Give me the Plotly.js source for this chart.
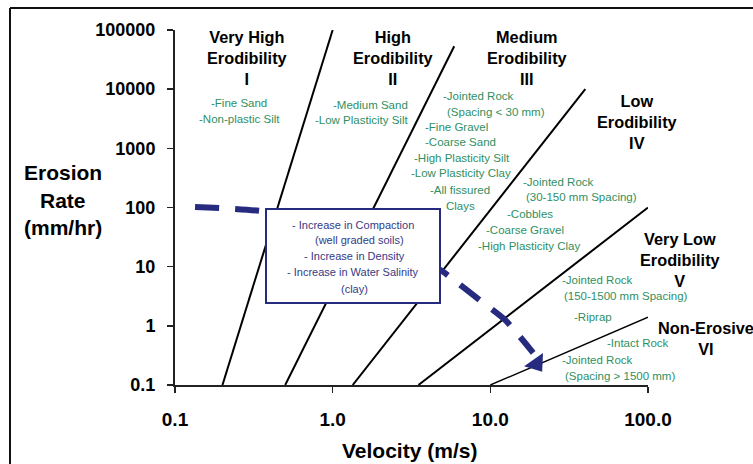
<!DOCTYPE html>
<html><head><meta charset="utf-8">
<script src="https://cdn.plot.ly/plotly-3.0.1.min.js"></script>
<style>body{margin:0;background:#fff}#c{width:753px;height:464px}</style>
</head><body><div id="c"></div>
<script>
// ---- data ----
const xTickVals = [0.1, 1, 10, 100];
const xTickText = ['0.1', '1.0', '10.0', '100.0'];
const yTickVals = [0.1, 1, 10, 100, 1000, 10000, 100000];
const yTickText = ['0.1', '1', '10', '100', '1000', '10000', '100000'];

// boundary lines between erodibility categories (velocity m/s, erosion rate mm/hr)
const boundaryVelStart = [0.2, 0.5, 1.34, 3.5, 10];
const boundaryVelEnd = [1.0, 5.9, 40, 100, 100];
const boundaryRateStart = [0.1, 0.1, 0.1, 0.1, 0.1];
const boundaryRateEnd = [100000, 53000, 10000, 100, 1.4];
const boundaryWidth = [2, 2, 2, 2, 1.4];

// trend arrow (dashed)
const trendVel = [0.134, 0.383, 1.11, 4.8, 5.55, 8.6, 12.4, 18.7, 19.6];
const trendRate = [102, 84, 34, 8.8, 6.7, 2.7, 1.26, 0.35, 0.23];

const categoryLabels = ['Very High<br>Erodibility<br>I', 'High<br>Erodibility<br>II',
  'Medium<br>Erodibility<br>III', 'Low<br>Erodibility<br>IV',
  'Very Low<br>Erodibility<br>V', 'Non-Erosive<br>VI'];
const materialsI = ['-Fine Sand', '-Non-plastic Silt'];
const materialsII = ['-Medium Sand', '-Low Plasticity Silt'];
const materialsIII = ['-Jointed Rock', '(Spacing < 30 mm)', '-Fine Gravel', '-Coarse Sand',
  '-High Plasticity Silt', '-Low Plasticity Clay', '-All fissured', 'Clays'];
const materialsIV = ['-Jointed Rock', '(30-150 mm Spacing)', '-Cobbles', '-Coarse Gravel', '-High Plasticity Clay'];
const materialsV = ['-Jointed Rock', '(150-1500 mm Spacing)', '-Riprap'];
const materialsVI = ['-Intact Rock', '-Jointed Rock', '(Spacing > 1500 mm)'];
const boxLines = ['- Increase in Compaction', '(well graded soils)', '- Increase in Density',
  '- Increase in Water Salinity', '(clay)'];

// ---- layout helpers (pixel -> paper) ----
const L = 175, R = 648, T = 30, B = 385;
const px = v => (v - L) / (R - L);
const py = v => (B - v) / (B - T);
const FONT = 'Liberation Sans, Arial, sans-serif';
const GREEN = '#2f8f5f', NAVY = '#272b80', BOXTXT = '#353a86';

const traces = [];
for (let i = 0; i < boundaryVelStart.length; i++) {
  traces.push({x: [boundaryVelStart[i], boundaryVelEnd[i]], y: [boundaryRateStart[i], boundaryRateEnd[i]],
    mode: 'lines', line: {color: '#000', width: boundaryWidth[i]}, hoverinfo: 'skip', showlegend: false});
}
traces.push({x: trendVel.slice(0, -1), y: trendRate.slice(0, -1), mode: 'lines',
  line: {color: NAVY, width: 6, dash: '24px,16px', shape: 'spline', smoothing: 0.6}, showlegend: false});
traces.push({x: trendVel.slice(-1), y: trendRate.slice(-1), mode: 'markers',
  marker: {symbol: 'triangle-down', size: 20, angle: -35, color: NAVY}, showlegend: false});

const ann = [];
function add(text, cx, cy, size, color, bold) {
  ann.push({xref: 'paper', yref: 'paper', x: px(cx), y: py(cy), xanchor: 'center', yanchor: 'middle',
    showarrow: false, text: text, font: {family: FONT, size: size, color: color, weight: bold ? 'bold' : 'normal'}});
}
const catPos = [[247, 57.5], [393, 58], [527, 57.5], [637, 121.5], [680, 260], [706, 338]];
categoryLabels.forEach((t, i) => add(t, catPos[i][0], catPos[i][1], 16.3, '#000', true));

const posI = [[239, 103], [239, 119]];
const posII = [[370, 105], [361, 120]];
const posIII = [[478, 96], [496, 112], [456, 127], [460, 142], [462, 158], [461, 173], [460, 190], [460, 206]];
const posIV = [[558, 182], [581, 197], [530, 214], [525, 230], [529, 246]];
const posV = [[597, 280], [626, 296], [593, 317]];
const posVI = [[638, 343], [597, 360], [620, 376]];
[[materialsI, posI], [materialsII, posII], [materialsIII, posIII], [materialsIV, posIV], [materialsV, posV], [materialsVI, posVI]]
  .forEach(([arr, pos]) => arr.forEach((t, i) => add(t, pos[i][0], pos[i][1], 11.5, GREEN, false)));

const boxY = [225, 240, 256, 272, 289];
const boxX = [353, 359, 354, 353, 354];
boxLines.forEach((t, i) => add(t, boxX[i], boxY[i], 11, BOXTXT, false));

add('Erosion', 63, 172, 21, '#000', true);
add('Rate', 63, 200, 21, '#000', true);
add('(mm/hr)', 63, 228, 21, '#000', true);
add('Velocity (m/s)', 409, 450, 21, '#000', true);

const shapes = [
  {type: 'rect', xref: 'paper', yref: 'paper', x0: px(266), x1: px(440), y0: py(209), y1: py(303),
    fillcolor: '#fff', line: {color: NAVY, width: 2}, layer: 'above'},
  {type: 'line', xref: 'paper', yref: 'paper', x0: px(10), x1: px(760), y0: py(8), y1: py(8), line: {color: '#111', width: 2}},
  {type: 'line', xref: 'paper', yref: 'paper', x0: px(10), x1: px(10), y0: py(8), y1: py(470), line: {color: '#111', width: 2}}
];

const layout = {
  width: 753, height: 464,
  margin: {l: L, r: 753 - R, t: T, b: 464 - B},
  paper_bgcolor: '#fff', plot_bgcolor: '#fff', showlegend: false,
  xaxis: {type: 'log', range: [-1, 2], tickvals: xTickVals, ticktext: xTickText, showgrid: false, zeroline: false,
    showline: true, linecolor: '#222', linewidth: 2, ticks: 'outside', ticklen: 6, tickwidth: 1.5, tickcolor: '#222',
    ticklabelstandoff: 10, tickfont: {family: FONT, size: 19, color: '#000', weight: 'bold'}},
  yaxis: {type: 'log', range: [-1, 5], tickvals: yTickVals, ticktext: yTickText, showgrid: false, zeroline: false,
    showline: true, linecolor: '#222', linewidth: 2, ticks: 'outside', ticklen: 6, tickwidth: 1.5, tickcolor: '#222',
    ticklabelstandoff: 8, tickfont: {family: FONT, size: 18, color: '#000', weight: 'bold'}},
  annotations: ann, shapes: shapes
};
Plotly.newPlot('c', traces, layout, {staticPlot: true});
</script></body></html>
